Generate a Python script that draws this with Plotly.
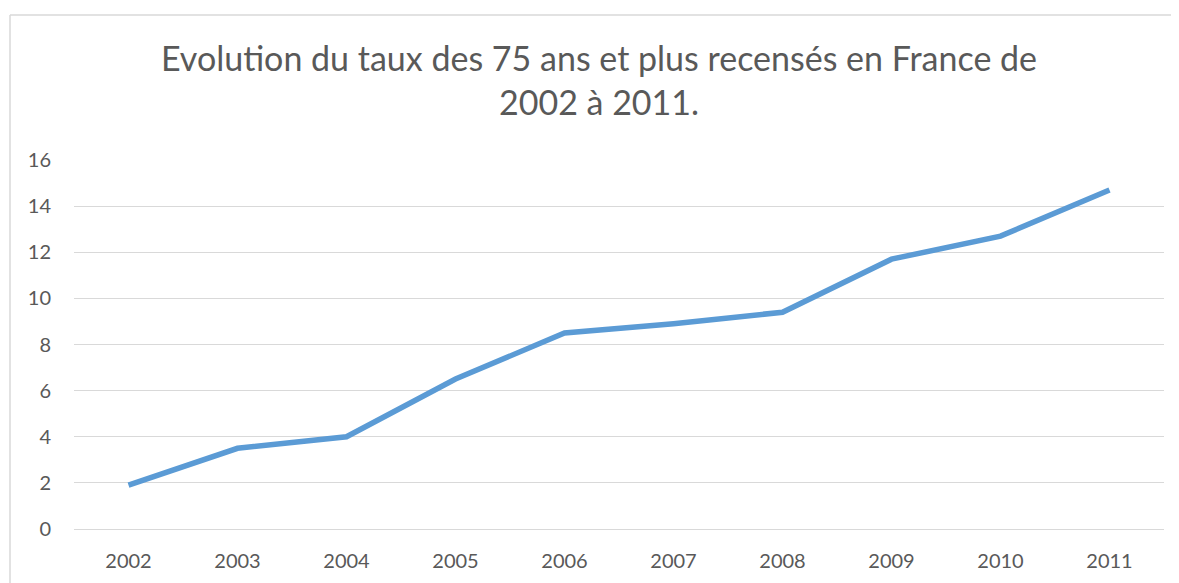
import plotly.graph_objects as go

years = ["2002", "2003", "2004", "2005", "2006", "2007", "2008", "2009", "2010", "2011"]
taux = [1.9, 3.5, 4.0, 6.5, 8.5, 8.9, 9.4, 11.7, 12.7, 14.7]
y_ticks = [0, 2, 4, 6, 8, 10, 12, 14, 16]
title_text = "Evolution du taux des 75 ans et plus recensés en France de<br>2002 à 2011."

OFF = 8  # page body margin
W, H = 1179 - OFF, 583 - OFF
# target pixel positions in the window, converted to figure coordinates
L = 74 - OFF
T = 160 - OFF
R = (W + OFF) - 1164
B = (H + OFF) - 529
pw, ph = W - L - R, H - T - B

def px(x):
    return (x - OFF - L) / pw

def py(y):
    return (H - B - (y - OFF)) / ph

fig = go.Figure()
fig.add_trace(go.Scatter(
    x=years, y=taux, mode="lines",
    line=dict(color="#5B9BD5", width=5.5),
    hoverinfo="skip", showlegend=False,
))

border = dict(color="#D9D9D9", width=1.5)
font_family = "Lato, 'Open Sans', sans-serif"
fig.update_layout(
    width=W, height=H,
    margin=dict(l=L, r=R, t=T, b=B),
    paper_bgcolor="white", plot_bgcolor="white",
    font=dict(family=font_family, color="#595959", size=20),
    showlegend=False,
    annotations=[dict(
        text=title_text, x=px(599), y=py(80), xref="paper", yref="paper",
        xanchor="center", yanchor="middle", showarrow=False,
        font=dict(size=34, color="#595959", family=font_family),
    )],
    shapes=[
        dict(type="line", xref="paper", yref="paper",
             x0=px(10), x1=px(1179), y0=py(15), y1=py(15),
             line=border, layer="below"),
        dict(type="line", xref="paper", yref="paper",
             x0=px(10), x1=px(10), y0=py(15), y1=py(583),
             line=border, layer="below"),
    ],
)
fig.update_xaxes(
    type="category", range=[-0.5, 9.5], showgrid=False, showline=False,
    ticks="", tickfont=dict(size=20, color="#595959"), ticklabelstandoff=18,
    automargin=False,
)
fig.update_yaxes(
    range=[0, 16], tickvals=y_ticks, showgrid=True, gridcolor="#D9D9D9",
    gridwidth=1.3, zeroline=True, zerolinecolor="#D9D9D9", zerolinewidth=1.3,
    showline=False, ticks="", tickfont=dict(size=20, color="#595959"),
    ticklabelstandoff=22, automargin=False,
)
fig.write_html("out.html")
